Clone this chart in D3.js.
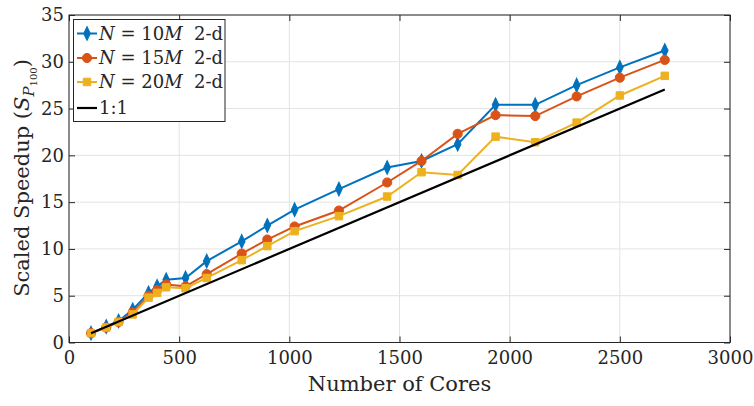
<!DOCTYPE html>
<html>
<head>
<meta charset="utf-8">
<script src="https://cdn.jsdelivr.net/npm/d3@7"></script>
<style>
  body { margin: 0; background: #fff; }
  svg { display: block; }
</style>
</head>
<body>
<svg id="chart" width="754" height="406"></svg>
<script>
const cores = [100, 169, 225, 289, 361, 400, 441, 529, 625, 784, 900, 1024, 1225, 1444, 1600, 1764, 1936, 2116, 2304, 2500, 2704];
const speedup10M = [1.0, 1.7, 2.3, 3.5, 5.3, 6.0, 6.7, 6.9, 8.7, 10.8, 12.5, 14.2, 16.4, 18.7, 19.4, 21.2, 25.4, 25.4, 27.5, 29.4, 31.2];
const speedup15M = [1.0, 1.6, 2.2, 3.2, 5.0, 5.6, 6.2, 6.0, 7.3, 9.5, 11.0, 12.4, 14.1, 17.1, 19.4, 22.3, 24.3, 24.2, 26.3, 28.3, 30.2];
const speedup20M = [1.0, 1.6, 2.2, 3.0, 4.8, 5.3, 5.9, 5.8, 6.9, 8.8, 10.3, 11.9, 13.5, 15.6, 18.2, 17.9, 22.0, 21.4, 23.5, 26.4, 28.5];
const idealX = [100, 2704];
const idealY = [1, 27.04];
const xTicks = [0, 500, 1000, 1500, 2000, 2500, 3000];
const yTicks = [0, 5, 10, 15, 20, 25, 30, 35];
const seriesNames = ["10", "15", "20"];

const FONT = "'DejaVu Serif', serif";
const svg = d3.select("#chart").attr("font-family", FONT).style("font-family", FONT);
const L = 69, R = 730, T = 15, B = 342.5;
const x = d3.scaleLinear().domain([0, 3000]).range([L, R]);
const y = d3.scaleLinear().domain([0, 35]).range([B, T]);
const axisColor = "#262626";
const gridColor = "#e3e3e3";

// grid
const g = svg.append("g");
g.selectAll("line.gx").data(xTicks).enter().append("line")
  .attr("x1", d => x(d)).attr("x2", d => x(d)).attr("y1", T).attr("y2", B)
  .attr("stroke", gridColor).attr("stroke-width", 1);
g.selectAll("line.gy").data(yTicks).enter().append("line")
  .attr("y1", d => y(d)).attr("y2", d => y(d)).attr("x1", L).attr("x2", R)
  .attr("stroke", gridColor).attr("stroke-width", 1);

// axes (ticks inward)
const tl = 6;
function styleAxis(a) {
  a.attr("font-family", FONT).style("font-family", FONT);
  a.select(".domain").remove();
  a.selectAll("line").attr("stroke", axisColor);
  a.selectAll("text").attr("font-size", 18).attr("fill", axisColor).style("font-family", FONT);
}
svg.append("g").attr("transform", `translate(0,${B})`)
  .call(d3.axisBottom(x).tickValues(xTicks).tickSize(-tl).tickPadding(9).tickFormat(d3.format("d")))
  .call(styleAxis);
svg.append("g").attr("transform", `translate(0,${T})`)
  .call(d3.axisTop(x).tickValues(xTicks).tickSize(-tl).tickFormat(""))
  .call(styleAxis);
svg.append("g").attr("transform", `translate(${L},0)`)
  .call(d3.axisLeft(y).tickValues(yTicks).tickSize(-tl).tickPadding(5).tickFormat(d3.format("d")))
  .call(styleAxis);
svg.append("g").attr("transform", `translate(${R},0)`)
  .call(d3.axisRight(y).tickValues(yTicks).tickSize(-tl).tickFormat(""))
  .call(styleAxis);
svg.append("rect").attr("x", L).attr("y", T).attr("width", R - L).attr("height", B - T)
  .attr("fill", "none").attr("stroke", axisColor).attr("stroke-width", 1);

// series
const series = [
  { vals: speedup10M, color: "#0072BD", sym: d3.symbolDiamond, size: 42, name: seriesNames[0] },
  { vals: speedup15M, color: "#D95319", sym: d3.symbolCircle, size: 66, name: seriesNames[1] },
  { vals: speedup20M, color: "#EDB120", sym: d3.symbolSquare, size: 56, name: seriesNames[2] }
];
const line = d3.line().x(d => x(d[0])).y(d => y(d[1]));
const symT = s => (s.sym === d3.symbolDiamond ? " scale(0.95,1.15)" : "");

series.forEach(s => {
  const pts = cores.map((c, i) => [c, s.vals[i]]);
  svg.append("path").attr("d", line(pts)).attr("fill", "none")
    .attr("stroke", s.color).attr("stroke-width", 2);
  const sy = d3.symbol().type(s.sym).size(s.size);
  svg.append("g").selectAll("path").data(pts).enter().append("path")
    .attr("transform", d => `translate(${x(d[0])},${y(d[1])})` + symT(s))
    .attr("d", sy()).attr("fill", s.color).attr("stroke", s.color).attr("stroke-width", 1);
});
svg.append("path").attr("d", line(idealX.map((v, i) => [v, idealY[i]])))
  .attr("fill", "none").attr("stroke", "#000").attr("stroke-width", 2.2);

// axis labels
svg.append("text").attr("x", (L + R) / 2).attr("y", 391).attr("text-anchor", "middle")
  .attr("font-size", 21).attr("fill", axisColor).text("Number of Cores");
const yl = svg.append("text").attr("transform", "translate(29,178) rotate(-90)")
  .attr("text-anchor", "middle").attr("font-size", 21).attr("fill", axisColor);
yl.append("tspan").text("Scaled Speedup (");
yl.append("tspan").attr("font-style", "italic").text("S");
yl.append("tspan").attr("font-style", "italic").attr("font-size", 15).attr("dy", 5).text("P");
yl.append("tspan").attr("font-size", 10).attr("dy", 3).text("100");
yl.append("tspan").attr("dy", -8).text(")");

// legend
const lg = svg.append("g");
lg.append("rect").attr("x", 73.5).attr("y", 19.5).attr("width", 151.5).attr("height", 102)
  .attr("fill", "#fff").attr("stroke", axisColor).attr("stroke-width", 1);
const ly = [33.5, 58, 82, 108];
series.forEach((s, i) => {
  lg.append("line").attr("x1", 77).attr("x2", 97).attr("y1", ly[i]).attr("y2", ly[i])
    .attr("stroke", s.color).attr("stroke-width", 2);
  lg.append("path").attr("transform", `translate(87,${ly[i]})` + symT(s))
    .attr("d", d3.symbol().type(s.sym).size(s.size)()).attr("fill", s.color).attr("stroke", s.color);
  const t = lg.append("text").attr("x", 99).attr("y", ly[i] + 6).attr("font-size", 18).attr("fill", axisColor);
  t.append("tspan").attr("font-style", "italic").text("N");
  t.append("tspan").text(" = " + s.name);
  t.append("tspan").attr("font-style", "italic").text("M");
  t.append("tspan").text("\u00a0\u00a02-d");
});
lg.append("line").attr("x1", 77).attr("x2", 97).attr("y1", ly[3]).attr("y2", ly[3])
  .attr("stroke", "#000").attr("stroke-width", 2.2);
lg.append("text").attr("x", 99).attr("y", ly[3] + 6).attr("font-size", 18).attr("fill", axisColor).text("1:1");
</script>
</body>
</html>
